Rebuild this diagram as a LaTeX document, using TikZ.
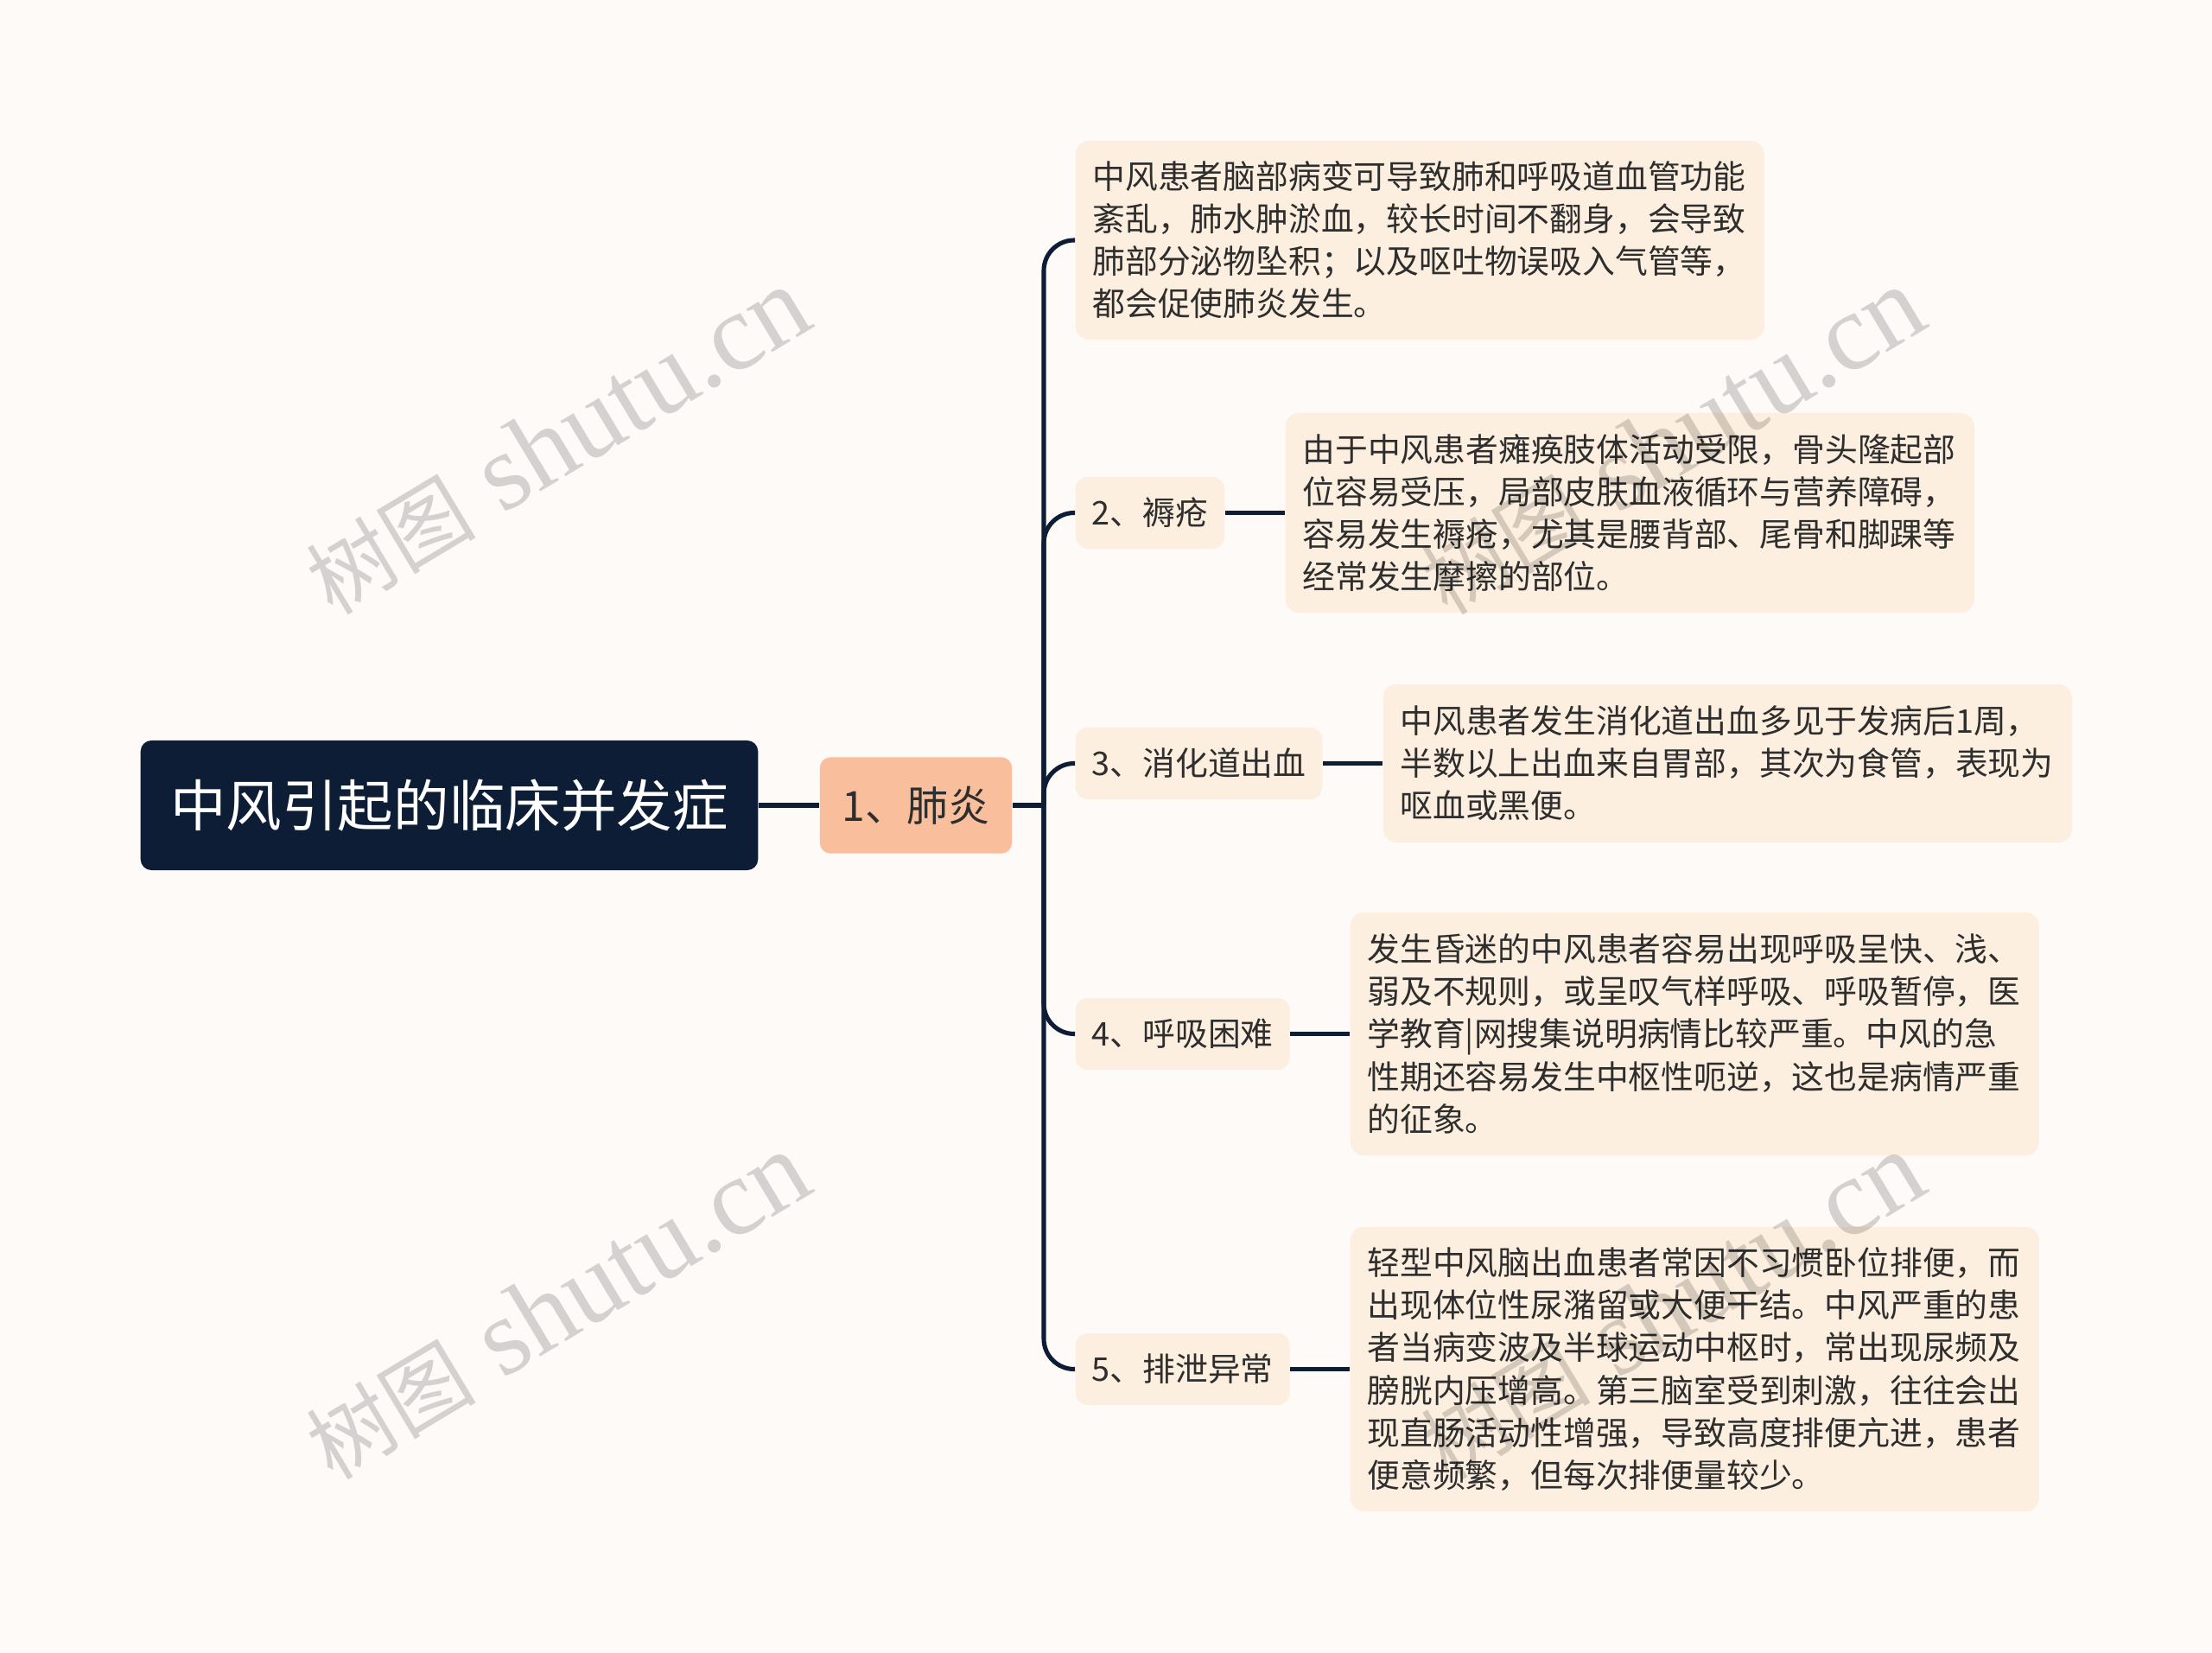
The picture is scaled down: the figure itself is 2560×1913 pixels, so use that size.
\documentclass[tikz,border=0pt]{standalone}
\usepackage{fontspec}
\setmainfont{Noto Sans CJK SC}
\newfontfamily\wmlatin{Liberation Serif}
\newfontfamily\wmcjk{Noto Sans CJK SC}
\definecolor{bgc}{HTML}{FDFAF8}
\definecolor{navy}{HTML}{0D1D35}
\definecolor{peach}{HTML}{F9BE9B}
\definecolor{leafc}{HTML}{FDEFDF}
\definecolor{txt}{HTML}{2E2E2E}
\newcommand{\wmtext}{{\wmcjk\fontsize{28pt}{32pt}\selectfont 树图}{\wmlatin\fontsize{36pt}{40pt}\selectfont\ shutu.cn}}
\tikzset{
  rootbox/.style={fill=navy, text=white, rounded corners=3.6pt, minimum width=203.2pt, minimum height=42.7pt, inner sep=0pt, font=\fontsize{18.35pt}{22pt}\selectfont},
  mainbox/.style={fill=peach, text=txt, rounded corners=3.4pt, minimum width=63.2pt, minimum height=31.6pt, inner sep=0pt, font=\fontsize{13.66pt}{16pt}\selectfont},
  labelbox/.style={fill=leafc, text=txt, rounded corners=4pt, minimum height=23.6pt, inner xsep=5.4pt, inner ysep=0pt, anchor=west, font=\fontsize{10.75pt}{13.94pt}\selectfont},
  leafbox/.style={fill=leafc, text=txt, rounded corners=4.5pt, text width=215.5pt, align=left, inner xsep=5.6pt, inner ysep=0pt, anchor=west, font=\fontsize{10.75pt}{13.94pt}\selectfont},
  conn/.style={draw=navy, line width=1.45pt},
  wm/.style={text=black, text opacity=0.16, rotate=31}
}
\begin{document}
\begin{tikzpicture}[x=0.01cm,y=-0.01cm]
\fill[bgc] (0,0) rectangle (2560,1913);
\useasboundingbox (0,0) rectangle (2560,1913);

\node[rootbox] (root) at (520,932) {中风引起的临床并发症};
\node[mainbox] (p1) at (1060,932) {1、肺炎};
\coordinate (hub) at (1208,932);

\node[leafbox, minimum height=65.4pt] (l1) at (1244,278) {中风患者脑部病变可导致肺和呼吸道血管功能\\紊乱，肺水肿淤血，较长时间不翻身，会导致\\肺部分泌物坠积；以及呕吐物误吸入气管等，\\都会促使肺炎发生。};

\node[labelbox] (c2) at (1244,593.5) {2、褥疮};
\node[leafbox, minimum height=65.7pt] (l2) at (1487,593.5) {由于中风患者瘫痪肢体活动受限，骨头隆起部\\位容易受压，局部皮肤血液循环与营养障碍，\\容易发生褥疮，尤其是腰背部、尾骨和脚踝等\\经常发生摩擦的部位。};

\node[labelbox] (c3) at (1244,883.5) {3、消化道出血};
\node[leafbox, minimum height=52.1pt] (l3) at (1600,883.5) {中风患者发生消化道出血多见于发病后1周，\\半数以上出血来自胃部，其次为食管，表现为\\呕血或黑便。};

\node[labelbox] (c4) at (1244,1196.5) {4、呼吸困难};
\node[leafbox, minimum height=80pt] (l4) at (1562,1196.5) {发生昏迷的中风患者容易出现呼吸呈快、浅、\\弱及不规则，或呈叹气样呼吸、呼吸暂停，医\\学教育|网搜集说明病情比较严重。中风的急\\性期还容易发生中枢性呃逆，这也是病情严重\\的征象。};

\node[labelbox] (c5) at (1244,1584.5) {5、排泄异常};
\node[leafbox, minimum height=93.6pt] (l5) at (1562,1584.5) {轻型中风脑出血患者常因不习惯卧位排便，而\\出现体位性尿潴留或大便干结。中风严重的患\\者当病变波及半球运动中枢时，常出现尿频及\\膀胱内压增高。第三脑室受到刺激，往往会出\\现直肠活动性增强，导致高度排便亢进，患者\\便意频繁，但每次排便量较少。};

\draw[conn] (root) -- (p1);
\draw[conn] (p1) -- (hub);
\foreach \n in {l1,c2,c3,c4,c5} \draw[conn, rounded corners=10pt] (hub) |- (\n.west);
\draw[conn] (c2) -- (l2);
\draw[conn] (c3) -- (l3);
\draw[conn] (c4) -- (l4);
\draw[conn] (c5) -- (l5);

\node[wm] (wm1) at (645,511) {\wmtext};
\node[wm] (wm2) at (1935,511) {\wmtext};
\node[wm] (wm3) at (645,1512) {\wmtext};
\node[wm] (wm4) at (1935,1512) {\wmtext};
\end{tikzpicture}
\end{document}
